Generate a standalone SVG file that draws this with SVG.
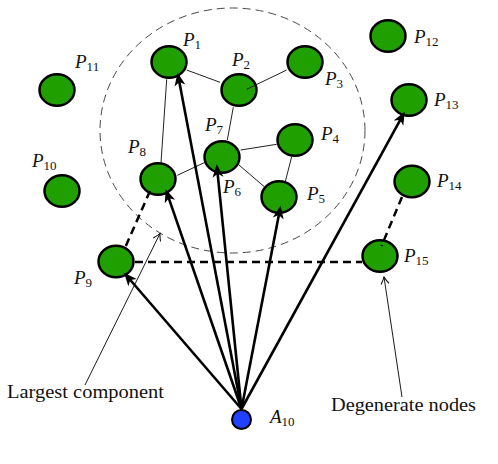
<svg xmlns="http://www.w3.org/2000/svg" width="498" height="464" viewBox="0 0 498 464">
<style>
.node{fill:#1fa000;stroke:#000;stroke-width:2.5}
.anchor{fill:#2240ff;stroke:#000;stroke-width:2}
.edge{stroke:#222;stroke-width:1;fill:none}
.dash{stroke:#000;stroke-width:2.5;stroke-dasharray:8 5;fill:none}
.arrow{stroke:#000;stroke-width:2.6;fill:none;marker-end:url(#head)}
.note{stroke:#000;stroke-width:0.9;fill:none;marker-end:url(#open)}
.lbl{font-family:'Liberation Serif','Times New Roman',serif;font-style:italic;font-size:19px;fill:#111}
.sub{font-style:normal;font-size:13px}
.txt{font-family:'Liberation Serif','Times New Roman',serif;font-size:19.5px;fill:#111}
</style>
<defs>
<marker id="head" markerUnits="userSpaceOnUse" viewBox="-13 -6 17 12" refX="0" refY="0" markerWidth="17" markerHeight="12" orient="auto" overflow="visible">
<path d="M3,0 L-10,-5.5 L-6.5,0 L-10,5.5 Z" fill="#000"/>
</marker>
<marker id="open" markerUnits="userSpaceOnUse" viewBox="-8 -5 9 10" refX="0" refY="0" markerWidth="9" markerHeight="10" orient="auto" overflow="visible">
<path d="M-7,-4 Q-2.5,-1 0,0 Q-2.5,1 -7,4" fill="none" stroke="#000" stroke-width="1"/>
</marker>
</defs>

<ellipse id="largest-component-region" cx="232.5" cy="130.5" rx="132.5" ry="122.5" fill="none" stroke="#333" stroke-width="0.9" stroke-dasharray="8 5"/>

<g id="P1"><ellipse class="node" cx="169" cy="62" rx="17.5" ry="15.8"/><text class="lbl" x="183" y="46">P<tspan class="sub" dy="2.5">1</tspan></text></g>
<g id="P2"><ellipse class="node" cx="239" cy="90" rx="17.5" ry="15.8"/><text class="lbl" x="232" y="66">P<tspan class="sub" dy="2.5">2</tspan></text></g>
<g id="P3"><ellipse class="node" cx="305" cy="62" rx="17.5" ry="15.8"/><text class="lbl" x="325" y="85">P<tspan class="sub" dy="2.5">3</tspan></text></g>
<g id="P4"><ellipse class="node" cx="295" cy="140" rx="17.5" ry="15.8"/><text class="lbl" x="321" y="140">P<tspan class="sub" dy="2.5">4</tspan></text></g>
<g id="P5"><ellipse class="node" cx="279" cy="197" rx="17.5" ry="15.8"/><text class="lbl" x="307" y="200">P<tspan class="sub" dy="2.5">5</tspan></text></g>
<g id="P6-P7"><ellipse class="node" cx="222" cy="157" rx="17.5" ry="15.8"/><text class="lbl" x="205" y="131">P<tspan class="sub" dy="2.5">7</tspan></text><text class="lbl" x="223" y="193">P<tspan class="sub" dy="2.5">6</tspan></text></g>
<g id="P8"><ellipse class="node" cx="158" cy="179" rx="17.5" ry="15.8"/><text class="lbl" x="128" y="153">P<tspan class="sub" dy="2.5">8</tspan></text></g>
<g id="P9"><ellipse class="node" cx="116" cy="261.5" rx="17.5" ry="15.8"/><text class="lbl" x="74" y="284">P<tspan class="sub" dy="2.5">9</tspan></text></g>
<g id="P10"><ellipse class="node" cx="62" cy="191" rx="17.5" ry="15.8"/><text class="lbl" x="32" y="167">P<tspan class="sub" dy="2.5">10</tspan></text></g>
<g id="P11"><ellipse class="node" cx="57" cy="90" rx="17.5" ry="15.8"/><text class="lbl" x="75" y="68">P<tspan class="sub" dy="2.5">11</tspan></text></g>
<g id="P12"><ellipse class="node" cx="388" cy="36" rx="17.5" ry="15.8"/><text class="lbl" x="414" y="43">P<tspan class="sub" dy="2.5">12</tspan></text></g>
<g id="P13"><ellipse class="node" cx="409" cy="100" rx="17.5" ry="15.8"/><text class="lbl" x="434" y="106">P<tspan class="sub" dy="2.5">13</tspan></text></g>
<g id="P14"><ellipse class="node" cx="412" cy="181.5" rx="17.5" ry="15.8"/><text class="lbl" x="437" y="187">P<tspan class="sub" dy="2.5">14</tspan></text></g>
<g id="P15"><ellipse class="node" cx="380" cy="256" rx="17.5" ry="15.8"/><text class="lbl" x="404" y="262">P<tspan class="sub" dy="2.5">15</tspan></text></g>
<g id="A10"><circle class="anchor" cx="241.5" cy="419.5" r="9.5"/><text class="lbl" x="270" y="423">A<tspan class="sub" dy="2.5">10</tspan></text></g>

<g id="connectors">
<line class="edge" x1="186.7" y1="70" x2="220" y2="82.3"/>
<line class="edge" x1="286.7" y1="70" x2="246.7" y2="89.3"/>
<line class="edge" x1="233.3" y1="107.3" x2="227.3" y2="140"/>
<line class="edge" x1="166.7" y1="79.3" x2="161" y2="162.7"/>
<line class="edge" x1="177.3" y1="175.3" x2="205" y2="162.3"/>
<line class="edge" x1="240.7" y1="150" x2="276.7" y2="144.3"/>
<line class="edge" x1="239" y1="165" x2="265" y2="187.3"/>
<line class="edge" x1="291.7" y1="156.7" x2="285" y2="182.7"/>

<line class="dash" x1="150" y1="191" x2="124.5" y2="249"/>
<line class="dash" x1="135" y1="262" x2="362" y2="262"/>
<line class="dash" x1="402" y1="197" x2="381.5" y2="246"/>

<line class="arrow" x1="241.5" y1="409" x2="126" y2="275"/>
<line class="arrow" x1="241.5" y1="409" x2="166.7" y2="192.1"/>
<line class="arrow" x1="241.5" y1="409" x2="178.1" y2="75.6"/>
<line class="arrow" x1="241.5" y1="409" x2="217" y2="167.3"/>
<line class="arrow" x1="241.5" y1="409" x2="280.1" y2="208.6"/>
<line class="arrow" x1="241.5" y1="409" x2="403.3" y2="114.3"/>

<line class="note" x1="85" y1="385" x2="160" y2="233.5"/>
<line class="note" x1="402" y1="397" x2="384" y2="277"/>
</g>

<text class="txt" x="7" y="398" textLength="157" lengthAdjust="spacingAndGlyphs">Largest component</text>
<text class="txt" x="331" y="411" textLength="145" lengthAdjust="spacingAndGlyphs">Degenerate nodes</text>
</svg>
